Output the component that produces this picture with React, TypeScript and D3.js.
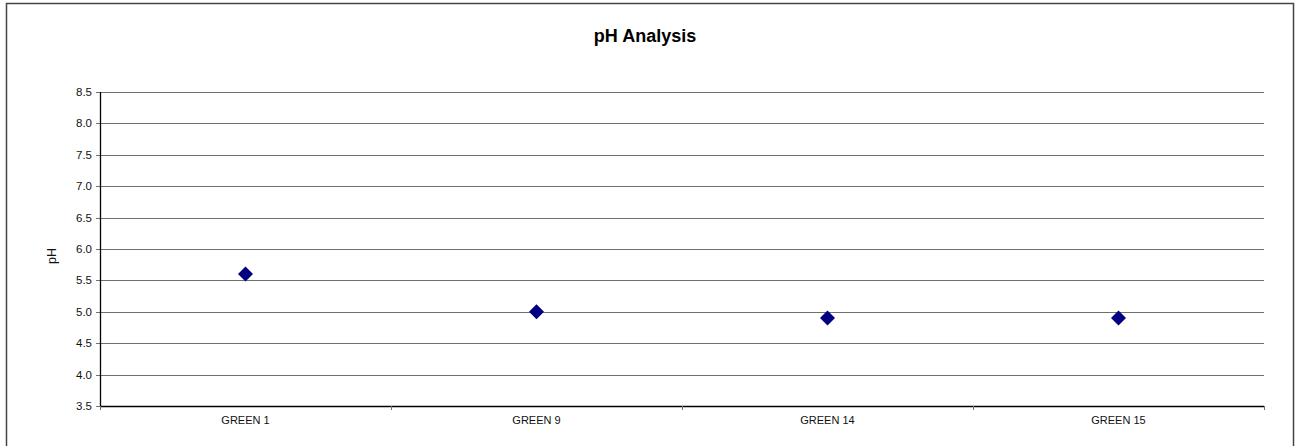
import React from "react";
import * as d3 from "d3";

const categories = ["GREEN 1", "GREEN 9", "GREEN 14", "GREEN 15"];
const phValues = [5.6, 5.0, 4.9, 4.9];
const yTicks = [3.5, 4.0, 4.5, 5.0, 5.5, 6.0, 6.5, 7.0, 7.5, 8.0, 8.5];

const W = 1297;
const H = 446;
const left = 100;
const right = 1264;
const top = 92;
const bottom = 406;

export default function App() {
  const x = d3.scaleBand<string>().domain(categories).range([left, right]).padding(0);
  const y = d3.scaleLinear().domain([3.5, 8.5]).range([bottom, top]);
  const font = "Arial, 'Liberation Sans', sans-serif";
  const boundaries = categories.map((c) => x(c) as number).concat([right]);

  return (
    <svg
      width={W}
      height={H}
      style={{ position: "absolute", left: 0, top: 0, background: "#fff" }}
      fontFamily={font}
    >
      <rect x={6.5} y={3.5} width={1287} height={460} fill="#fff" stroke="#444" strokeWidth={1.5} />
      <text x={645} y={41.5} textAnchor="middle" fontSize={18} fontWeight="bold" fill="#000">
        pH Analysis
      </text>
      {yTicks.map((t) => (
        <g key={t}>
          {t !== 3.5 && (
            <line x1={left} x2={right} y1={Math.round(y(t)) + 0.5} y2={Math.round(y(t)) + 0.5} stroke="#707070" strokeWidth={1} />
          )}
          <line x1={left - 4} x2={left} y1={Math.round(y(t)) + 0.5} y2={Math.round(y(t)) + 0.5} stroke="#707070" />
          <text x={left - 8} y={y(t) + 4} textAnchor="end" fontSize={11.5} fill="#111">
            {t.toFixed(1)}
          </text>
        </g>
      ))}
      <line x1={left + 0.5} x2={left + 0.5} y1={top} y2={bottom} stroke="#000" strokeWidth={1.3} />
      <line x1={left} x2={right} y1={bottom + 0.5} y2={bottom + 0.5} stroke="#000" strokeWidth={1.3} />
      {boundaries.map((b, i) => (
        <line key={i} x1={Math.round(b) + 0.5} x2={Math.round(b) + 0.5} y1={bottom} y2={bottom + 4} stroke="#707070" />
      ))}
      {categories.map((c) => (
        <text key={c} x={(x(c) as number) + x.bandwidth() / 2} y={424} textAnchor="middle" fontSize={11} fill="#111">
          {c}
        </text>
      ))}
      <text
        transform={`translate(56,256) rotate(-90)`}
        textAnchor="middle"
        fontSize={12.5}
        fill="#111"
      >
        pH
      </text>
      {categories.map((c, i) => {
        const cx = (x(c) as number) + x.bandwidth() / 2;
        const cy = y(phValues[i]);
        const s = 7.5;
        return (
          <path
            key={c}
            d={`M${cx},${cy - s} L${cx + s},${cy} L${cx},${cy + s} L${cx - s},${cy} Z`}
            fill="#000080"
          />
        );
      })}
    </svg>
  );
}
